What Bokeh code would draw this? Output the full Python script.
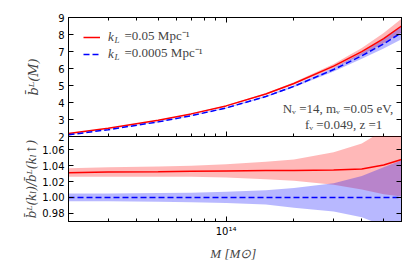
from bokeh.plotting import figure
from bokeh.layouts import column
from bokeh.models import (Range1d, FixedTicker, LinearAxis, LogAxis, Legend,
                          LegendItem, Label, PrintfTickFormatter)
from bokeh.embed import file_html
from bokeh.resources import INLINE

# ---------------- data ----------------
M = [2e13, 3e13, 5e13, 7e13, 1e14, 1.5e14, 2e14, 3e14, 4e14, 5e14, 6e14]

b_red = [2.17, 2.48, 2.95, 3.33, 3.80, 4.50, 5.12, 6.14, 6.99, 7.76, 8.50]
b_red_hi = [2.18, 2.49, 2.97, 3.35, 3.83, 4.55, 5.19, 6.27, 7.21, 8.09, 8.92]
b_red_lo = [2.16, 2.47, 2.93, 3.31, 3.77, 4.45, 5.06, 6.03, 6.81, 7.48, 8.12]

b_blue = [2.10, 2.40, 2.86, 3.22, 3.68, 4.35, 4.95, 5.94, 6.75, 7.45, 8.11]
b_blue_hi = [2.11, 2.41, 2.88, 3.24, 3.71, 4.39, 5.01, 6.05, 6.93, 7.73, 8.49]
b_blue_lo = [2.09, 2.39, 2.84, 3.20, 3.65, 4.31, 4.89, 5.83, 6.58, 7.18, 7.72]

r_red = [1.031, 1.032, 1.0325, 1.033, 1.0335, 1.034, 1.034, 1.0345, 1.036, 1.041, 1.048]
r_red_hi = [1.037, 1.038, 1.039, 1.040, 1.042, 1.045, 1.048, 1.057, 1.068, 1.085, 1.100]
r_red_lo = [1.026, 1.026, 1.026, 1.026, 1.025, 1.023, 1.021, 1.016, 1.010, 1.004, 1.001]

r_blue = [1.0, 1.0, 1.0, 1.0, 1.0, 1.0, 1.0, 1.0, 1.0, 1.0, 1.0]
r_blue_hi = [1.005, 1.005, 1.0055, 1.006, 1.007, 1.009, 1.012, 1.018, 1.027, 1.038, 1.047]
r_blue_lo = [0.995, 0.995, 0.9945, 0.994, 0.993, 0.991, 0.987, 0.982, 0.975, 0.964, 0.952]

x_major = [1e14]
x_minor = [3e13, 4e13, 5e13, 6e13, 7e13, 8e13, 9e13, 2e14, 3e14, 4e14, 5e14, 6e14]
x_tick_labels = {1e14: "10\u00b9\u2074"}
y1_ticks = [2, 3, 4, 5, 6, 7, 8, 9]
y2_ticks = [0.98, 1.00, 1.02, 1.04, 1.06]

legend_labels = ["=0.05 Mpc\u207b\u00b9", "=0.0005 Mpc\u207b\u00b9"]
note_lines = ["N\u1d65 =14,  m\u1d65 =0.05 eV,", "f\u1d65 =0.049,  z =1"]

RED = "#ff0000"
BLUE = "#0000ff"
SERIF = "Liberation Serif"


def style_axis(ax, labels=True):
    ax.major_tick_in = 5
    ax.major_tick_out = 0
    ax.minor_tick_in = 3
    ax.minor_tick_out = 0
    ax.axis_line_color = "black"
    ax.major_tick_line_color = "black"
    ax.minor_tick_line_color = "black"
    ax.major_label_text_font = "DejaVu Sans"
    ax.major_label_text_color = "black"
    if labels:
        ax.major_label_text_font_size = "10px"
        ax.major_label_standoff = 4
    else:
        ax.major_label_text_font_size = "1px"
        ax.major_label_text_alpha = 0
        ax.major_label_standoff = 0


def make_fig(h, yr, top, bottom):
    p = figure(frame_width=333, frame_height=h, x_axis_type="log",
               x_range=Range1d(2e13, 6e14), y_range=yr,
               output_backend="svg", toolbar_location=None,
               min_border_left=68, min_border_right=5,
               min_border_top=top, min_border_bottom=bottom)
    p.grid.visible = False
    p.outline_line_color = "black"
    p.outline_line_width = 1
    p.background_fill_color = "white"
    return p


# ---------------- top panel ----------------
p1 = make_fig(119, Range1d(2, 9), 17, 6)
p1.border_fill_alpha = 0
p1.xaxis.ticker = FixedTicker(ticks=x_major, minor_ticks=x_minor)
style_axis(p1.xaxis[0], labels=False)
p1.yaxis.ticker = FixedTicker(ticks=y1_ticks)
style_axis(p1.yaxis[0])
p1.yaxis.axis_label = "b\u0304\u1d38(M)"
p1.yaxis.axis_label_text_font = "DejaVu Serif"
p1.yaxis.axis_label_text_font_style = "italic"
p1.yaxis.axis_label_text_font_size = "13px"
p1.yaxis.axis_label_standoff = 14

ax = LinearAxis(ticker=FixedTicker(ticks=y1_ticks))
style_axis(ax, labels=False)
p1.add_layout(ax, "right")
ax = LogAxis(ticker=FixedTicker(ticks=x_major, minor_ticks=x_minor))
style_axis(ax, labels=False)
p1.add_layout(ax, "above")

p1.varea(x=M, y1=b_red_lo, y2=b_red_hi, fill_color=RED, fill_alpha=0.28)
p1.varea(x=M, y1=b_blue_lo, y2=b_blue_hi, fill_color=BLUE, fill_alpha=0.28)
lr = p1.line(M, b_red, line_color=RED, line_width=1.5)
lb = p1.line(M, b_blue, line_color=BLUE, line_width=1.5, line_dash="6 3")

# one legend per row, so that each row sits exactly where the reference has it
for rend, loc_y in zip([lr, lb], [91, 74]):
    lg = Legend(items=[LegendItem(label="k", renderers=[rend])],
                location=(15, loc_y), padding=0, margin=0, spacing=0,
                glyph_width=17, glyph_height=12, label_height=12,
                label_standoff=8, border_line_alpha=0,
                background_fill_alpha=0, label_text_font=SERIF,
                label_text_font_style="italic", label_text_font_size="13px")
    p1.add_layout(lg)

for yy, txt in zip([101, 84], legend_labels):
    p1.add_layout(Label(x=46, y=yy - 4, x_units="screen", y_units="screen",
                        text="L", text_font=SERIF, text_font_style="italic",
                        text_font_size="9px", text_baseline="middle"))
    p1.add_layout(Label(x=56, y=yy, x_units="screen", y_units="screen",
                        text=txt, text_font=SERIF, text_font_size="13px",
                        text_baseline="middle"))

for xx, yy, txt in zip([328, 317], [28, 12], note_lines):
    p1.add_layout(Label(x=xx, y=yy, x_units="screen", y_units="screen",
                        text=txt, text_font=SERIF, text_font_size="13px",
                        text_align="right", text_baseline="middle"))

# ---------------- bottom panel ----------------
p2 = make_fig(85, Range1d(0.9695, 1.077), 0, 45)
p2.margin = (-6, 0, 0, 0)
p2.border_fill_alpha = 0
p2.xaxis.ticker = FixedTicker(ticks=x_major, minor_ticks=x_minor)
style_axis(p2.xaxis[0])
p2.xaxis.major_label_overrides = x_tick_labels
p2.xaxis.axis_label = "M  [M\u2299]"
p2.xaxis.axis_label_text_font = SERIF
p2.xaxis.axis_label_text_font_style = "italic"
p2.xaxis.axis_label_text_font_size = "13px"
p2.xaxis.axis_label_standoff = 6
p2.yaxis.ticker = FixedTicker(ticks=y2_ticks)
p2.yaxis.formatter = PrintfTickFormatter(format="%.2f")
style_axis(p2.yaxis[0])
p2.yaxis.axis_label = "b\u0304\u1d38(k\u2097)/b\u0304\u1d38(k\u2097\u2191)"
p2.yaxis.axis_label_text_font = "DejaVu Serif"
p2.yaxis.axis_label_text_font_style = "italic"
p2.yaxis.axis_label_text_font_size = "12px"
p2.yaxis.axis_label_standoff = 0

ax = LinearAxis(ticker=FixedTicker(ticks=y2_ticks))
style_axis(ax, labels=False)
p2.add_layout(ax, "right")

p2.varea(x=M, y1=r_red_lo, y2=r_red_hi, fill_color=RED, fill_alpha=0.28)
p2.varea(x=M, y1=r_blue_lo, y2=r_blue_hi, fill_color=BLUE, fill_alpha=0.28)
p2.line(M, r_red, line_color=RED, line_width=1.5)
p2.line(M, r_blue, line_color=BLUE, line_width=1.5, line_dash="6 3")

layout = column(p1, p2, spacing=0)
open("out.html", "w").write(file_html(layout, INLINE))
